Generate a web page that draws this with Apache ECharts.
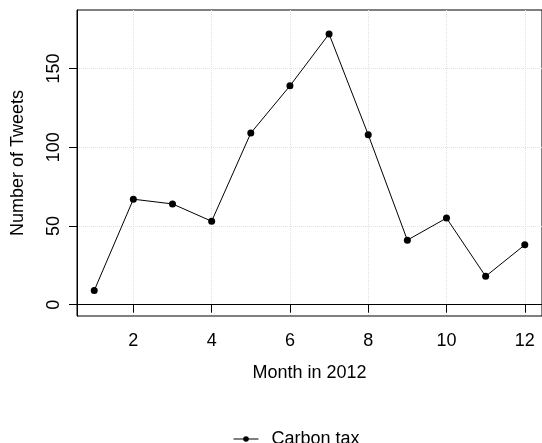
<!DOCTYPE html>
<html>
<head>
<meta charset="utf-8">
<script src="https://cdn.jsdelivr.net/npm/echarts@6/dist/echarts.min.js"></script>
<style>html,body{margin:0;padding:0;background:#fff;}#c{width:542px;height:443px;}</style>
</head>
<body>
<div id="c"></div>
<script>
var months = [1,2,3,4,5,6,7,8,9,10,11,12];
var tweets = [9,67,64,53,109,139,172,108,41,55,18,38];
var xTicks = [2,4,6,8,10,12];
var yTicks = [0,50,100,150];
var seriesName = 'Carbon tax';
var xTitle = 'Month in 2012';
var yTitle = 'Number of Tweets';

var font = "'Liberation Sans', Arial, Helvetica, sans-serif";
var chart = echarts.init(document.getElementById('c'), null, {renderer:'canvas'});
var pts = months.map(function(m,i){return [m, tweets[i]];});
chart.setOption({
  animation:false,
  backgroundColor:'#fff',
  textStyle:{fontFamily:font},
  grid:{left:77, top:10, right:-3, bottom:127, show:true, borderColor:'#000', borderWidth:1, backgroundColor:'transparent'},
  legend:{
    left:228, top:425, itemWidth:25, itemHeight:7,
    data:[seriesName],
    lineStyle:{width:1, color:'#000'},
    itemStyle:{color:'#000'},
    textStyle:{fontFamily:font, fontSize:18, color:'#000', padding:[0,0,0,8]}
  },
  xAxis:{
    type:'value', min:0.56, max:12.44,
    name:xTitle, nameLocation:'middle', nameGap:48,
    nameTextStyle:{fontFamily:font, fontSize:18, color:'#000'},
    axisLine:{show:true, lineStyle:{color:'#000', width:1}},
    axisTick:{show:true, length:8, lineStyle:{color:'#000'}, customValues:xTicks},
    axisLabel:{fontFamily:font, fontSize:18, color:'#000', margin:16, customValues:xTicks},
    splitLine:{show:true, lineStyle:{color:'#e0e0e0', type:'dotted', width:1}}
  },
  yAxis:{
    type:'value', min:-7.2, max:187.2,
    name:yTitle, nameLocation:'middle', nameGap:50, nameRotate:90,
    nameTextStyle:{fontFamily:font, fontSize:18, color:'#000'},
    axisLine:{show:true, lineStyle:{color:'#000', width:1}},
    axisTick:{show:true, length:8, lineStyle:{color:'#000'}, customValues:yTicks},
    axisLabel:{fontFamily:font, fontSize:18, color:'#000', margin:14, rotate:90, customValues:yTicks},
    splitLine:{show:true, lineStyle:{color:'#e0e0e0', type:'dotted', width:1}}
  },
  series:[{
    name:seriesName, type:'line', data:pts,
    symbol:'circle', symbolSize:7, showSymbol:true,
    lineStyle:{color:'#000', width:1},
    itemStyle:{color:'#000'},
    emphasis:{disabled:true}
  }]
});
</script>
</body>
</html>
